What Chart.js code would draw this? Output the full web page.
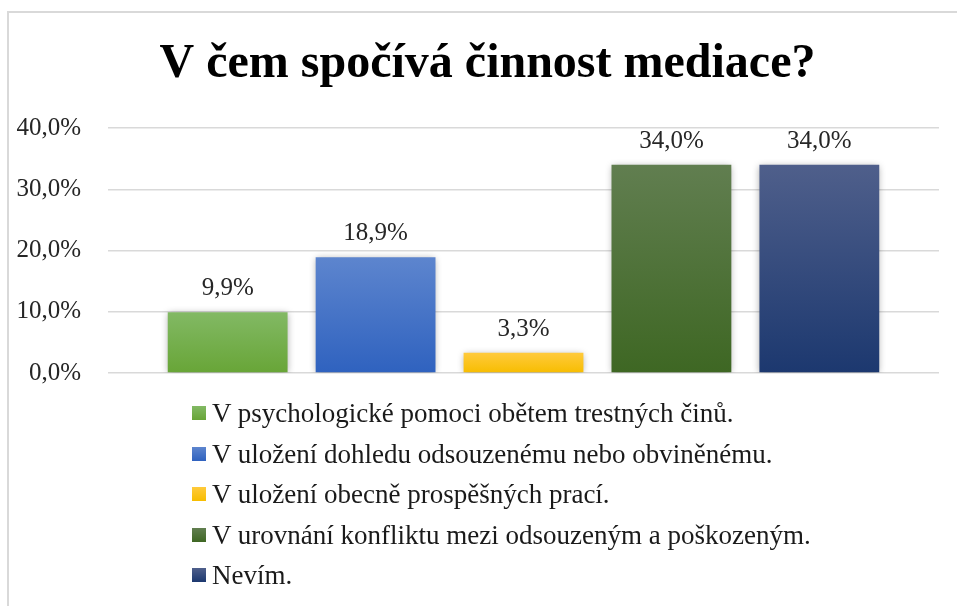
<!DOCTYPE html>
<html>
<head>
<meta charset="utf-8">
<title>V čem spočívá činnost mediace?</title>
<script src="https://cdn.jsdelivr.net/npm/chart.js@4.4.1/dist/chart.umd.min.js"></script>
<style>
  html, body { margin: 0; padding: 0; width: 957px; height: 606px; overflow: hidden; background: #fff; }
  #marco { position: absolute; left: 7px; top: 11px; width: 1000px; height: 700px;
    border-left: 2px solid #d9d9d9; border-top: 2px solid #d9d9d9; }
  #grafico { position: absolute; left: 0; top: 0; }
  #leyenda { position: absolute; left: 192px; top: 393px; margin: 0; padding: 0; list-style: none;
    font-family: "Liberation Serif"; font-size: 27px; line-height: 40.6px; color: #1a1a1a; }
  #leyenda li { white-space: nowrap; }
  #leyenda span { display: inline-block; width: 14px; height: 14px; margin-right: 6px; position: relative; top: -2px; }
</style>
</head>
<body>
<div id="marco"></div>
<canvas id="grafico" width="975" height="415"></canvas>
<ul id="leyenda"></ul>
<script>
const titulo = "V čem spočívá činnost mediace?";
const categorias = [
  "V psychologické pomoci obětem trestných činů.",
  "V uložení dohledu odsouzenému nebo obviněnému.",
  "V uložení obecně prospěšných prací.",
  "V urovnání konfliktu mezi odsouzeným a poškozeným.",
  "Nevím."
];
const valores = [9.9, 18.9, 3.3, 34.0, 34.0];
const ticksY = [0, 10, 20, 30, 40];
const colorArriba = ["#82b964", "#5d85ce", "#ffca3c", "#617e50", "#4f5f8b"];
const colorAbajo = ["#68a537", "#2f62bf", "#f7bd00", "#3e6723", "#1c386f"];

const fuente = "Liberation Serif";

function formato(v) {
  return Number(v).toFixed(1).replace(".", ",") + "%";
}

// degradado vertical por barra (claro arriba)
function degradado(i) {
  return function (c) {
    const y = c.chart.scales.y;
    if (!y || c.raw === undefined) return colorAbajo[i];
    const arriba = y.getPixelForValue(c.raw);
    const base = y.getPixelForValue(0);
    if (!isFinite(arriba) || !isFinite(base) || arriba === base) return colorAbajo[i];
    const g = c.chart.ctx.createLinearGradient(0, arriba, 0, base);
    g.addColorStop(0, colorArriba[i]);
    g.addColorStop(1, colorAbajo[i]);
    return g;
  };
}

// titulo centrado en todo el canvas (el de Chart.js se centra entre paddings)
const encabezado = {
  id: "encabezado",
  afterDraw(chart) {
    const ctx = chart.ctx;
    ctx.save();
    ctx.font = "bold 48px '" + fuente + "'";
    ctx.fillStyle = "#000";
    ctx.textAlign = "center";
    ctx.textBaseline = "alphabetic";
    ctx.fillText(titulo, chart.width / 2, 77);
    ctx.restore();
  }
};

const sombra = {
  id: "sombra",
  beforeDatasetsDraw(chart) {
    const ctx = chart.ctx;
    ctx.save();
    ctx.shadowColor = "rgba(0,0,0,0.35)";
    ctx.shadowBlur = 7;
    ctx.shadowOffsetX = 0;
    ctx.shadowOffsetY = 1;
  },
  afterDatasetsDraw(chart) {
    chart.ctx.restore();
  }
};

const etiquetas = {
  id: "etiquetas",
  afterDatasetsDraw(chart) {
    const ctx = chart.ctx;
    ctx.save();
    ctx.font = "25px '" + fuente + "'";
    ctx.fillStyle = "#262626";
    ctx.textAlign = "center";
    ctx.textBaseline = "alphabetic";
    chart.data.datasets.forEach((ds, i) => {
      const bar = chart.getDatasetMeta(i).data[0];
      ctx.fillText(formato(ds.data[0]), bar.x, bar.y - 17);
    });
    ctx.restore();
  }
};

const ctx = document.getElementById("grafico");
const grafico = new Chart(ctx, {
  type: "bar",
  data: {
    labels: [""],
    datasets: categorias.map((nombre, i) => ({
      label: nombre,
      data: [valores[i]],
      backgroundColor: degradado(i),
      borderWidth: 0,
      barPercentage: 0.81,
      categoryPercentage: 0.89
    }))
  },
  options: {
    responsive: false,
    animation: false,
    layout: { padding: { top: 128, left: 16, right: 36, bottom: 0 } },
    plugins: {
      legend: { display: false },
      tooltip: { enabled: false },
      title: { display: false }
    },
    scales: {
      x: { display: false },
      y: {
        min: ticksY[0],
        max: ticksY[ticksY.length - 1],
        afterFit: (s) => { s.width = 92; },
        ticks: {
          stepSize: ticksY[1] - ticksY[0],
          padding: 27,
          color: "#262626",
          font: { family: fuente, size: 25 },
          callback: (v) => formato(v)
        },
        grid: { color: "#d9d9d9", lineWidth: 1.5, drawTicks: false },
        border: { display: false }
      }
    }
  },
  plugins: [encabezado, sombra, etiquetas]
});

// leyenda en lista, un elemento por fila
const ul = document.getElementById("leyenda");
grafico.data.datasets.forEach((ds, i) => {
  const li = document.createElement("li");
  const caja = document.createElement("span");
  caja.style.background = "linear-gradient(" + colorArriba[i] + ", " + colorAbajo[i] + ")";
  li.appendChild(caja);
  li.appendChild(document.createTextNode(ds.label));
  ul.appendChild(li);
});
</script>
</body>
</html>
